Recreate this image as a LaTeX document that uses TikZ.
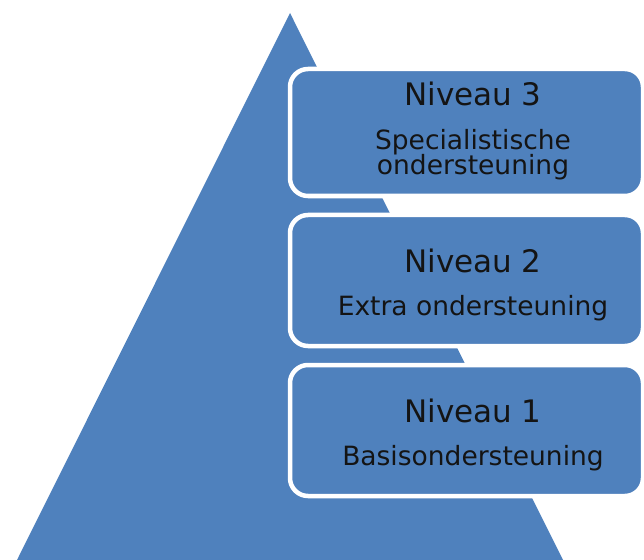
\documentclass[tikz,border=0pt]{standalone}
\usepackage{fontspec}
\setmainfont{DejaVu Sans}
\definecolor{pyrblue}{HTML}{4F81BD}
\tikzset{
  levelbox/.style={rectangle, rounded corners=18bp, fill=pyrblue, draw=white, line width=4.5bp, inner sep=0pt},
  titletext/.style={anchor=base, inner sep=0pt, font=\fontsize{31bp}{36bp}\selectfont, text=black!92},
  subtext/.style={anchor=base, inner sep=0pt, font=\fontsize{26.5bp}{30bp}\selectfont, text=black!92}
}
\begin{document}
\begin{tikzpicture}[x=1bp,y=-1bp]
\useasboundingbox (0,0) rectangle (644,560);
\clip (0,0) rectangle (644,560);
\fill[pyrblue] (290,13) -- (563,560) -- (17,560) -- cycle;
\node[levelbox, minimum width=353bp, minimum height=127bp] (b3) at (466.5,132.5) {};
\node[levelbox, minimum width=353bp, minimum height=131bp] (b2) at (466.5,280.5) {};
\node[levelbox, minimum width=353bp, minimum height=131bp] (b1) at (466.5,430.5) {};
\node[titletext] (t3) at (473,106) {Niveau 3};
\node[subtext] (s3a) at (473,150) {Specialistische};
\node[subtext] (s3b) at (473,175) {ondersteuning};
\node[titletext] (t2) at (473,272) {Niveau 2};
\node[subtext] (s2) at (473,315) {Extra ondersteuning};
\node[titletext] (t1) at (473,422) {Niveau 1};
\node[subtext] (s1) at (473,465) {Basisondersteuning};
\end{tikzpicture}
\end{document}
